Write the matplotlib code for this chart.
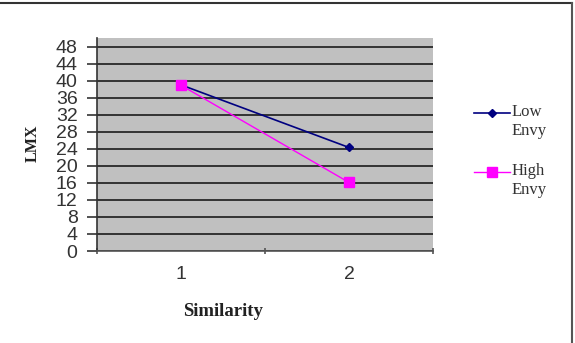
import matplotlib
matplotlib.use("Agg")
import matplotlib.pyplot as plt
from matplotlib.lines import Line2D

categories = [1, 2]
low_envy = [39.0, 24.3]
high_envy = [38.9, 16.1]
series_names = ["Low\nEnvy", "High\nEnvy"]
y_ticks = list(range(0, 49, 4))

fig = plt.figure(figsize=(5.75, 3.43), dpi=100)
ax = fig.add_axes([97/575, 1-251/343, (433-97)/575, (251-38)/343])
ax.set_facecolor("#C0C0C0")

styles = [dict(color="#000080", lw=1.2, marker="D", markersize=4.5),
          dict(color="#FF00FF", lw=1.0, marker="s", markersize=6.5)]

xpos = list(range(len(categories)))
for vals, st in zip([low_envy, high_envy], styles):
    ax.plot(xpos, vals, zorder=3, **st)

ax.set_xlim(-0.5, len(categories) - 0.5)
ax.set_ylim(0, 50)
ax.set_yticks(y_ticks)
ax.set_yticklabels([str(t) for t in y_ticks], family="Liberation Sans", fontsize=14,
                   color="#333333")
for t in y_ticks:
    ax.axhline(t, color="#333333", lw=1.4, zorder=1)

ax.set_xticks([i - 0.5 for i in range(len(categories) + 1)])
ax.set_xticklabels([])
ax.set_xticks(xpos, minor=True)
ax.set_xticklabels([str(c) for c in categories], minor=True, family="Liberation Sans",
                   fontsize=14, color="#333333")
ax.tick_params(axis="x", which="minor", length=0, pad=11)
ax.tick_params(axis="x", which="major", length=5, width=1.2, color="#555555", direction="inout")
ax.tick_params(axis="y", length=7, width=1.2, color="#333333", direction="out", pad=7)

for s in ["top", "right"]:
    ax.spines[s].set_visible(False)
ax.spines["left"].set_color("#333333")
ax.spines["left"].set_linewidth(1.2)
ax.spines["bottom"].set_color("#555555")
ax.spines["bottom"].set_linewidth(1.2)

fig.text(223/575, 1-311/343, "Similarity", family="Liberation Serif", fontweight="bold",
         fontsize=13.5, ha="center", va="center", color="#222222")
fig.text(33/575, 1-143/343, "LMX", family="Liberation Serif", fontweight="bold",
         fontsize=11.5, ha="center", va="center", rotation=90, color="#222222")

# legend (drawn manually to match layout)
leg_y = [113, 172]
for name, st, yy in zip(series_names, styles, leg_y):
    yf = 1 - yy/343
    fig.add_artist(Line2D([474/575, 510/575], [yf, yf], transform=fig.transFigure,
                          markevery=[], **{k: v for k, v in st.items() if k not in ("marker", "markersize")}))
    fig.add_artist(Line2D([492/575], [yf], transform=fig.transFigure, linestyle="none",
                          color=st["color"], marker=st["marker"], markersize=st["markersize"]))
    fig.text(512/575, yf, name, family="Liberation Serif", fontsize=12, color="#333333",
             ha="left", va="top", linespacing=1.25,
             transform=fig.transFigure).set_position((512/575, 1 - (yy - 9)/343))

# figure frame (top and right)
fig.add_artist(Line2D([0, 572/575], [1-3/343, 1-3/343], color="#333333", lw=1.5,
                      transform=fig.transFigure))
fig.add_artist(Line2D([572/575, 572/575], [1-3/343, 0], color="#555555", lw=1.5,
                      transform=fig.transFigure))

fig.savefig("out.png", dpi=100)
